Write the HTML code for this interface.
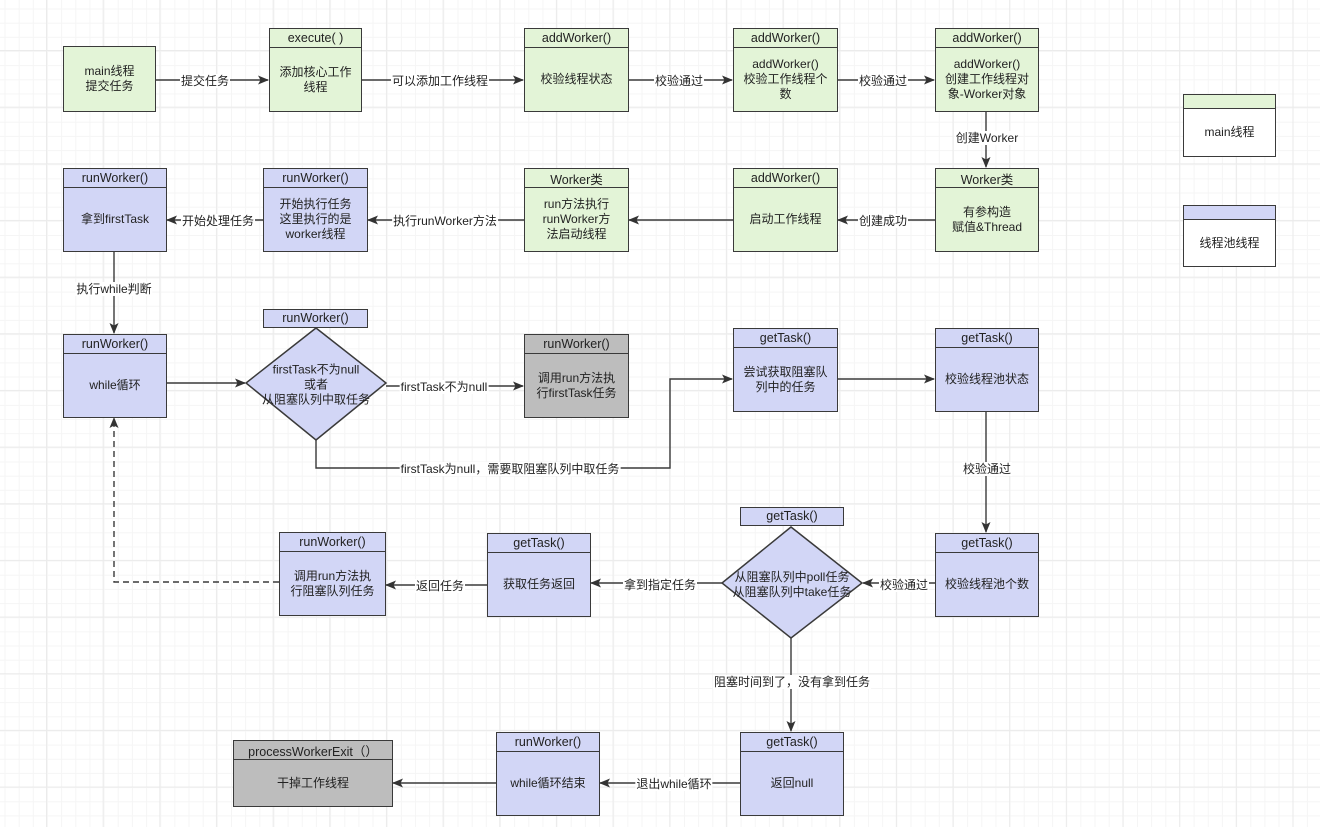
<!DOCTYPE html>
<html><head><meta charset="utf-8">
<style>
html,body{margin:0;padding:0}
body{width:1320px;height:827px;position:relative;overflow:hidden;background:#fff;
font-family:"Liberation Sans","Noto Sans CJK SC",sans-serif;font-size:12px;color:#222;
background-image:
linear-gradient(#ebebeb 1px,transparent 1px),linear-gradient(90deg,#ebebeb 1px,transparent 1px),
linear-gradient(#f5f5f5 1px,transparent 1px),linear-gradient(90deg,#f5f5f5 1px,transparent 1px);
background-size:56.67px 56.67px,56.67px 56.67px,14.17px 14.17px,14.17px 14.17px;
background-position:46px 50px,46px 50px,4.5px 8.5px,4.5px 8.5px;}
.b{position:absolute;border:1.5px solid #3a3a3a;box-sizing:border-box;display:flex;flex-direction:column}
.b .h{height:18px;border-bottom:1.5px solid #3a3a3a;display:flex;align-items:center;justify-content:center;flex:none;font-size:12.5px}
.b .c{flex:1;display:flex;align-items:center;justify-content:center;text-align:center;line-height:15px;padding:0 3px}
.g{background:#e3f4d7}.p{background:#d2d6f6}.y{background:#bdbdbd}.w{background:#fff}
.l{position:absolute;background:#fff;transform:translate(-50%,-50%);white-space:nowrap;line-height:14px;padding:0 1px}
.t{position:absolute;text-align:center;line-height:15px;transform:translate(-50%,-50%);white-space:nowrap}
svg{position:absolute;left:0;top:0}
</style></head><body>
<svg width="1320" height="827">
<defs><marker id="a" markerWidth="11" markerHeight="9" refX="10" refY="4.5" orient="auto" markerUnits="userSpaceOnUse"><path d="M0,0 L11,4.5 L0,9 L2.5,4.5z" fill="#333"/></marker></defs>
<g stroke="#3a3a3a" stroke-width="1.4" fill="none" marker-end="url(#a)">
<line x1="155" y1="80" x2="268" y2="80"/>
<line x1="361" y1="80" x2="523" y2="80"/>
<line x1="628" y1="80" x2="732" y2="80"/>
<line x1="837" y1="80" x2="934" y2="80"/>
<line x1="986" y1="111" x2="986" y2="167"/>
<line x1="935" y1="220" x2="838" y2="220"/>
<line x1="733" y1="220" x2="629" y2="220"/>
<line x1="524" y1="220" x2="368" y2="220"/>
<line x1="263" y1="220" x2="167" y2="220"/>
<line x1="114" y1="251" x2="114" y2="333"/>
<line x1="166" y1="383" x2="245" y2="383"/>
<line x1="386" y1="386" x2="523" y2="386"/>
<polyline points="316,440 316,468 670,468 670,379 732,379"/>
<line x1="837" y1="379" x2="934" y2="379"/>
<line x1="986" y1="411" x2="986" y2="532"/>
<line x1="935" y1="583" x2="863" y2="583"/>
<line x1="722" y1="583" x2="591" y2="583"/>
<line x1="487" y1="585" x2="386" y2="585"/>
<polyline points="279,582 114,582 114,418" stroke-dasharray="6,4"/>
<line x1="791" y1="638" x2="791" y2="731"/>
<line x1="740" y1="783" x2="600" y2="783"/>
<line x1="496" y1="783" x2="393" y2="783"/>
</g>
<polygon points="316,328 386,383 316,440 246,383" fill="#d2d6f6" stroke="#3a3a3a" stroke-width="1.5"/>
<polygon points="791,527 862,583 791,638 722,583" fill="#d2d6f6" stroke="#3a3a3a" stroke-width="1.5"/>
</svg>

<div class="b g" style="left:63px;top:46px;width:93px;height:66px"><div class="c">main线程<br>提交任务</div></div>
<div class="b g" style="left:269px;top:28px;width:93px;height:84px"><div class="h">execute( )</div><div class="c">添加核心工作<br>线程</div></div>
<div class="b g" style="left:524px;top:28px;width:105px;height:84px"><div class="h">addWorker()</div><div class="c">校验线程状态</div></div>
<div class="b g" style="left:733px;top:28px;width:105px;height:84px"><div class="h">addWorker()</div><div class="c">addWorker()<br>校验工作线程个<br>数</div></div>
<div class="b g" style="left:935px;top:28px;width:104px;height:84px"><div class="h">addWorker()</div><div class="c">addWorker()<br>创建工作线程对<br>象-Worker对象</div></div>

<div class="b p" style="left:63px;top:168px;width:104px;height:84px"><div class="h">runWorker()</div><div class="c">拿到firstTask</div></div>
<div class="b p" style="left:263px;top:168px;width:105px;height:84px"><div class="h">runWorker()</div><div class="c">开始执行任务<br>这里执行的是<br>worker线程</div></div>
<div class="b g" style="left:524px;top:168px;width:105px;height:84px"><div class="h">Worker类</div><div class="c">run方法执行<br>runWorker方<br>法启动线程</div></div>
<div class="b g" style="left:733px;top:168px;width:105px;height:84px"><div class="h">addWorker()</div><div class="c">启动工作线程</div></div>
<div class="b g" style="left:935px;top:168px;width:104px;height:84px"><div class="h">Worker类</div><div class="c">有参构造<br>赋值&amp;Thread</div></div>

<div class="b w" style="left:1183px;top:94px;width:93px;height:63px"><div class="h g" style="height:13px"></div><div class="c">main线程</div></div>
<div class="b w" style="left:1183px;top:205px;width:93px;height:62px"><div class="h p" style="height:13px"></div><div class="c">线程池线程</div></div>

<div class="b p" style="left:63px;top:334px;width:104px;height:84px"><div class="h">runWorker()</div><div class="c">while循环</div></div>
<div class="b p" style="left:263px;top:309px;width:105px;height:19px"><div class="c" style="font-size:12.5px">runWorker()</div></div>
<div class="t" style="left:316px;top:385px">firstTask不为null<br>或者<br>从阻塞队列中取任务</div>
<div class="b y" style="left:524px;top:334px;width:105px;height:84px"><div class="h">runWorker()</div><div class="c">调用run方法执<br>行firstTask任务</div></div>
<div class="b p" style="left:733px;top:328px;width:105px;height:84px"><div class="h">getTask()</div><div class="c">尝试获取阻塞队<br>列中的任务</div></div>
<div class="b p" style="left:935px;top:328px;width:104px;height:84px"><div class="h">getTask()</div><div class="c">校验线程池状态</div></div>

<div class="b p" style="left:740px;top:507px;width:104px;height:19px"><div class="c" style="font-size:12.5px">getTask()</div></div>
<div class="t" style="left:792px;top:585px">从阻塞队列中poll任务<br>从阻塞队列中take任务</div>
<div class="b p" style="left:935px;top:533px;width:104px;height:84px"><div class="h">getTask()</div><div class="c">校验线程池个数</div></div>
<div class="b p" style="left:487px;top:533px;width:104px;height:84px"><div class="h">getTask()</div><div class="c">获取任务返回</div></div>
<div class="b p" style="left:279px;top:532px;width:107px;height:84px"><div class="h">runWorker()</div><div class="c">调用run方法执<br>行阻塞队列任务</div></div>

<div class="b y" style="left:233px;top:740px;width:160px;height:67px"><div class="h">processWorkerExit（）</div><div class="c">干掉工作线程</div></div>
<div class="b p" style="left:496px;top:732px;width:104px;height:84px"><div class="h">runWorker()</div><div class="c">while循环结束</div></div>
<div class="b p" style="left:740px;top:732px;width:104px;height:84px"><div class="h">getTask()</div><div class="c">返回null</div></div>

<div class="l" style="left:205px;top:81px">提交任务</div>
<div class="l" style="left:440px;top:81px">可以添加工作线程</div>
<div class="l" style="left:679px;top:81px">校验通过</div>
<div class="l" style="left:883px;top:81px">校验通过</div>
<div class="l" style="left:987px;top:138px">创建Worker</div>
<div class="l" style="left:883px;top:221px">创建成功</div>
<div class="l" style="left:445px;top:221px">执行runWorker方法</div>
<div class="l" style="left:218px;top:221px">开始处理任务</div>
<div class="l" style="left:114px;top:289px">执行while判断</div>
<div class="l" style="left:444px;top:387px">firstTask不为null</div>
<div class="l" style="left:510px;top:469px">firstTask为null，需要取阻塞队列中取任务</div>
<div class="l" style="left:987px;top:469px">校验通过</div>
<div class="l" style="left:904px;top:585px">校验通过</div>
<div class="l" style="left:660px;top:585px">拿到指定任务</div>
<div class="l" style="left:440px;top:586px">返回任务</div>
<div class="l" style="left:792px;top:682px">阻塞时间到了，没有拿到任务</div>
<div class="l" style="left:674px;top:784px">退出while循环</div>
</body></html>
